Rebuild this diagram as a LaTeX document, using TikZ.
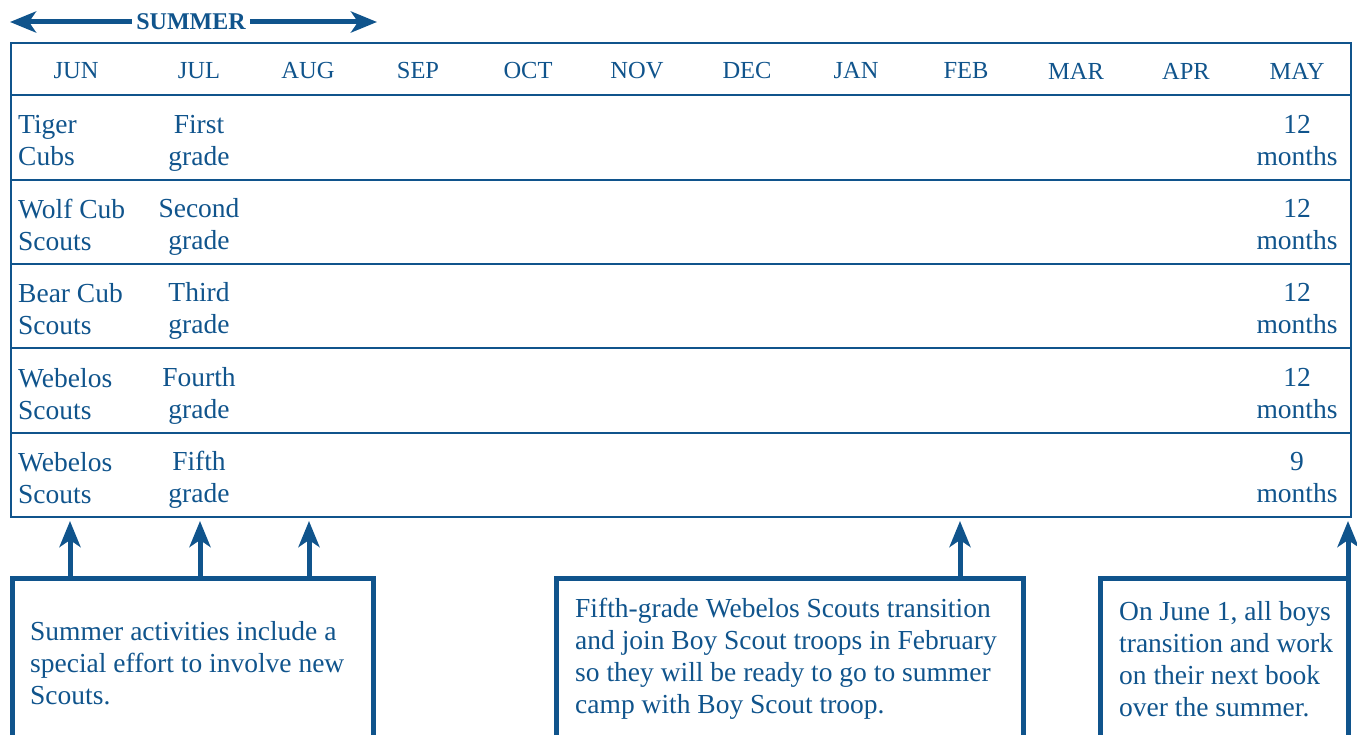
\documentclass[tikz,border=0pt]{standalone}
\usepackage{fontspec}
\setmainfont{Liberation Serif}
\usetikzlibrary{arrows.meta}
\definecolor{scoutblue}{RGB}{16,84,140}
\tikzset{
  every node/.style={text=scoutblue, inner sep=0pt},
  month/.style={font=\fontsize{24.5}{30}\selectfont},
  cell/.style={font=\fontsize{27.5}{32}\selectfont, align=center},
  rowlabel/.style={font=\fontsize{27.5}{32}\selectfont, align=left, anchor=west},
  note/.style={font=\fontsize{27.5}{32}\selectfont, align=left, anchor=west},
  notebox/.style={draw=scoutblue, line width=5pt, outer sep=0pt, anchor=north west},
  rule/.style={scoutblue, line width=2.8pt},
  bluearrow/.style={draw=scoutblue, line width=5pt, -{Stealth[length=26pt, width=21pt, inset=7pt]}},
}
\begin{document}
\begin{tikzpicture}[x=1pt, y=-1pt]
    \useasboundingbox (0,0) rectangle (1357,735);
    \clip (0,0) rectangle (1357,735);

    % summer span
    \node[font=\bfseries\fontsize{24}{24}\selectfont, inner sep=4pt] (summer) at (191,22) {SUMMER};
    \coordinate (sumleft) at (10,22);
    \coordinate (sumright) at (377,22);
    \draw[bluearrow] (summer) -- (sumleft);
    \draw[bluearrow] (summer) -- (sumright);

    % table
    \node[draw=scoutblue, line width=2.8pt, outer sep=0pt, minimum width=1340pt, minimum height=474pt, anchor=north west] (tbl) at (11,43) {};
    \foreach \y in {95,180,264,348,433} \draw[rule] (11,\y) -- (1351,\y);
    \foreach \x/\m [count=\i] in {76/JUN,199/JUL,308/AUG,418/SEP,528/OCT,637/NOV,747/DEC,856/JAN,966/FEB,1076/MAR,1186/APR,1297/MAY}
        \node[month] (m\i) at (\x,71) {\m};
    \foreach \y/\a/\b/\c [count=\i] in {141/{Tiger\\Cubs}/{First\\grade}/{12\\months},
                                        225/{Wolf Cub\\Scouts}/{Second\\grade}/{12\\months},
                                        309/{Bear Cub\\Scouts}/{Third\\grade}/{12\\months},
                                        394/{Webelos\\Scouts}/{Fourth\\grade}/{12\\months},
                                        478/{Webelos\\Scouts}/{Fifth\\grade}/{9\\months}} {
        \node[rowlabel] (rank\i) at (18,\y) {\a};
        \node[cell] (grade\i) at (199,\y+2) {\b};
        \node[cell] (span\i) at (1297,\y) {\c};
    }

    % notes
    \node[notebox, minimum width=361pt, minimum height=220pt] (sumbox) at (12,578) {};
    \node[notebox, minimum width=467pt, minimum height=220pt] (febbox) at (556,578) {};
    \node[notebox, minimum width=248pt, minimum height=220pt] (junbox) at (1100,578) {};
    \node[note] (sumtext) at (30,663) {Summer activities include a\\special effort to involve new\\Scouts.};
    \node[note] (febtext) at (575,659) {Fifth-grade Webelos Scouts transition\\and join Boy Scout troops in February\\so they will be ready to go to summer\\camp with Boy Scout troop.};
    \node[note] (juntext) at (1119,659) {On June 1, all boys\\transition and work\\on their next book\\over the summer.};

    \coordinate (t1) at (70,521);
    \coordinate (t2) at (200,521);
    \coordinate (t3) at (309,521);
    \coordinate (t4) at (960,521);
    \coordinate (t5) at (1348,521);
    \foreach \t in {t1,t2,t3} \draw[bluearrow] (sumbox.north -| \t) -- (\t);
    \draw[bluearrow] (febbox.north -| t4) -- (t4);
    \draw[bluearrow] (junbox.north east) -- (t5);
\end{tikzpicture}
\end{document}
